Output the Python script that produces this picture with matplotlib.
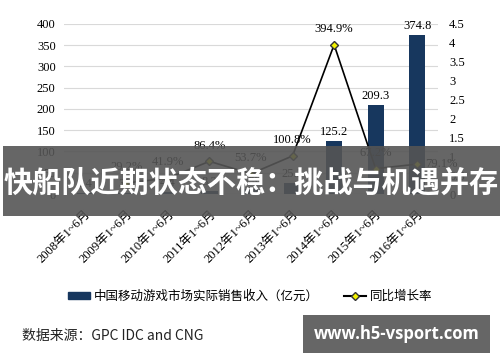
import matplotlib
matplotlib.use('Agg')
import matplotlib.pyplot as plt
from matplotlib.patches import Rectangle, Patch
from matplotlib.lines import Line2D

plt.rcParams['font.family'] = ['Liberation Serif', 'Noto Sans CJK SC']

# 数据
years = ['2008年1~6月', '2009年1~6月', '2010年1~6月', '2011年1~6月', '2012年1~6月',
         '2013年1~6月', '2014年1~6月', '2015年1~6月', '2016年1~6月']
revenue = [2.4, 3.1, 4.4, 8.2, 12.6, 25.3, 125.2, 209.3, 374.8]
growth_years = years[1:]
growth = [29.2, 41.9, 86.4, 53.7, 100.8, 394.9, 67.2, 79.1]

bar_color = '#17375e'

fig = plt.figure(figsize=(5, 3.62), dpi=100)
ax = fig.add_axes([0.128, 0.464, 0.748, 0.470])
ax2 = ax.twinx()

xs = list(range(len(years)))
ax.bar(xs, revenue, width=0.39, color=bar_color, zorder=2)
ax.set_xlim(-0.5, len(years) - 0.5)
ax.set_ylim(0, 400)
ax.set_yticks(range(0, 401, 50))
ax.yaxis.grid(True, color='#d9d9d9', lw=0.8)
ax.set_axisbelow(True)
ax.set_xticks(xs)
ax.set_xticklabels(years, rotation=45, ha='right', rotation_mode='anchor', fontsize=8.5)
ax.tick_params(length=0, labelsize=9)
ax.tick_params(axis='x', pad=10)
ax.tick_params(axis='y', pad=6)

for i, v in zip(xs, revenue):
    ax.annotate('%.1f' % v, (i, v), xytext=(0, 2), textcoords='offset points',
                ha='center', va='bottom', fontsize=9)

# 同比增长率
gx = [years.index(y) for y in growth_years]
gy = [g / 100 for g in growth]
ax2.plot(gx, gy, color='black', lw=1.2, marker='D', markersize=4.5,
         markerfacecolor='#f2f200', markeredgecolor='#333333', zorder=3)
ax2.set_ylim(0, 4.5)
ax2.set_yticks([0, 0.5, 1, 1.5, 2, 2.5, 3, 3.5, 4, 4.5])
ax2.set_yticklabels(['0', '0.5', '1', '1.5', '2', '2.5', '3', '3.5', '4', '4.5'])
ax2.tick_params(length=0, labelsize=9, pad=8)

for i, (a, b) in enumerate(zip(gx, gy)):
    if i == len(gx) - 1:
        ax2.annotate('%.1f%%' % growth[i], (a, b), xytext=(6, 0), textcoords='offset points',
                     ha='left', va='center', fontsize=9)
    else:
        ax2.annotate('%.1f%%' % growth[i], (a, b), xytext=(0, 7), textcoords='offset points',
                     ha='center', va='bottom', fontsize=9)

for a in (ax, ax2):
    for s in a.spines.values():
        s.set_visible(False)

# 图例
handles = [Patch(color=bar_color),
           Line2D([], [], color='black', marker='D', markersize=4,
                  markerfacecolor='#f2f200', markeredgecolor='#333333')]
labels = ['中国移动游戏市场实际销售收入（亿元）', '同比增长率']
fig.legend(handles, labels, loc='center', bbox_to_anchor=(0.5, 0.182), ncol=2,
           frameon=False, handlelength=1.8, handleheight=0.5, columnspacing=2.0,
           handletextpad=0.3, prop={'family': ['Noto Sans CJK SC'], 'size': 9})

# 数据来源
fig.text(0.044, 0.072, '数据来源：GPC IDC and CNG', ha='left', va='center',
         fontsize=10, family=['Noto Sans CJK SC'], color='#222222')

# 标题横幅
fig.patches.append(Rectangle((0.006, 0.403), 0.994, 0.194, transform=fig.transFigure,
                             facecolor='#555555', edgecolor='none', alpha=0.9, zorder=10))
fig.text(0.503, 0.497, '快船队近期状态不稳：挑战与机遇并存', ha='center', va='center',
         color='white', fontsize=21, fontweight='bold', family=['Noto Sans CJK SC'], zorder=11)

# 水印
fig.patches.append(Rectangle((0.606, 0.025), 0.374, 0.105, transform=fig.transFigure,
                             facecolor='#666666', edgecolor='none', zorder=10))
fig.text(0.793, 0.078, 'www.h5-vsport.com', ha='center', va='center', color='white',
         fontsize=12, fontweight='bold', family=['Open Sans'], zorder=11)

fig.savefig('out.png', dpi=100)
